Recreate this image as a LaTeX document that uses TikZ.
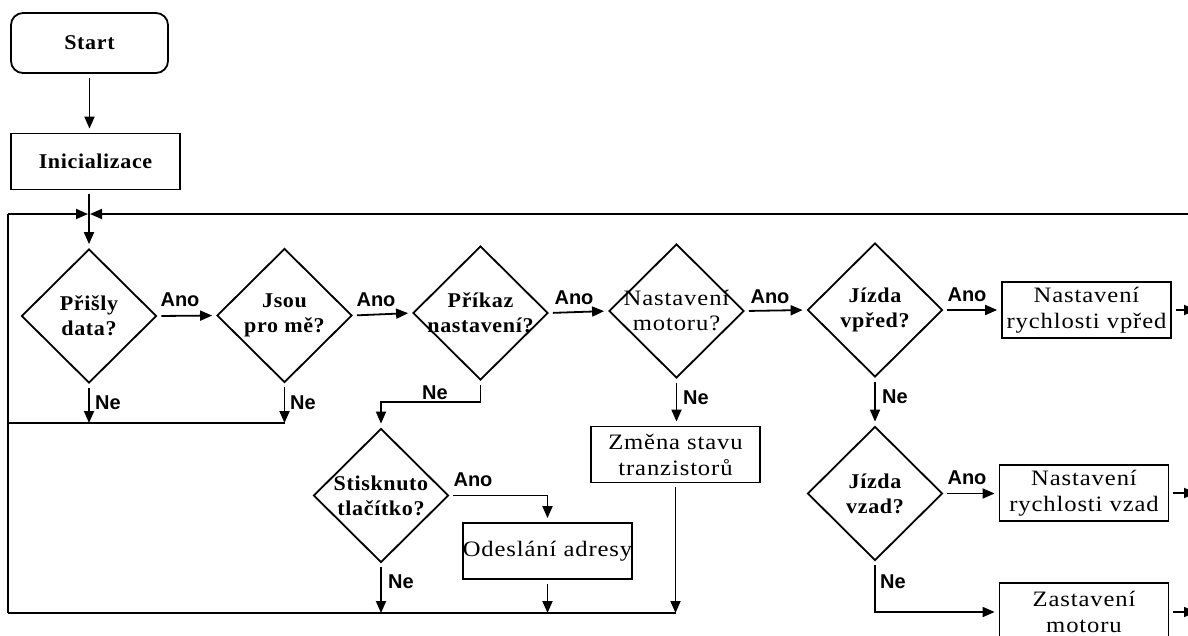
\documentclass[tikz,border=0pt]{standalone}
\usepackage{fontspec}
\setmainfont{Liberation Serif}
\newfontfamily\boxserif[FakeStretch=1.12,LetterSpace=4]{Liberation Serif}
\newfontfamily\qserif[FakeStretch=1.05,LetterSpace=3]{Liberation Serif}
\newfontfamily\tagsans{Liberation Sans}
\usetikzlibrary{shapes.geometric,arrows.meta}

\begin{document}
\begin{tikzpicture}[x=1pt,y=-1pt,
  line width=1.8pt,
  tipflow/.style={-{Triangle[length=12pt,width=10pt]}},
  flow/.style={tipflow, shorten >=4pt, shorten <=4pt},
  flowin/.style={tipflow, shorten <=4pt},
  qtext/.style={align=center, font={\qserif\bfseries\fontsize{21}{25}\selectfont}},
  qtextreg/.style={align=center, font={\boxserif\fontsize{22}{25}\selectfont}},
  term/.style={draw, rounded corners=12pt, minimum width=157pt, minimum height=60pt,
    inner sep=0pt, font={\qserif\bfseries\fontsize{21}{25}\selectfont}},
  stepbox/.style={draw, minimum width=169pt, minimum height=56pt, inner sep=0pt,
    align=center, font={\boxserif\fontsize{22}{26}\selectfont}},
  dec/.style={draw, diamond, minimum width=135pt, minimum height=134pt, inner sep=0pt},
  tag/.style={font={\tagsans\bfseries\fontsize{20}{22}\selectfont}, inner sep=0pt}
]
% canvas
\fill[white] (0,0) rectangle (1188,635);
\clip (0,0) rectangle (1188,635);

% start and initialisation
\node[term] (start) at (89.5,43) {Start};
\node[stepbox, font={\qserif\bfseries\fontsize{21}{25}\selectfont}] (init) at (95.5,161.5) {Inicializace};

% decisions
\node[dec, label={[qtext]center:Přišly\\data?}] (d1) at (89,316) {};
\node[dec, label={[qtext]center:Jsou\\pro mě?}] (d2) at (284.5,315.5) {};
\node[dec, label={[qtext]center:Příkaz\\nastavení?}] (d3) at (480.5,313) {};
\node[dec, label={[qtextreg]center:Nastavení\\motoru?}] (d4) at (676.5,311) {};
\node[dec, label={[qtext]center:Jízda\\vpřed?}] (d5) at (875,310) {};
\node[dec, label={[qtext]center:Stisknuto\\tlačítko?}] (d6) at (381,495.5) {};
\node[dec, label={[qtext]center:Jízda\\vzad?}] (d7) at (875,493.5) {};

% actions
\node[stepbox] (zm) at (675.5,454.5) {Změna stavu\\tranzistorů};
\node[stepbox] (od) at (547.5,551) {Odeslání adresy};
\node[stepbox] (rvf) at (1086.5,310) {Nastavení\\rychlosti vpřed};
\node[stepbox] (rvb) at (1084,493) {Nastavení\\rychlosti vzad};
\node[stepbox, minimum height=58pt] (zs) at (1084,612) {Zastavení\\motoru};

% loop rails
\coordinate (jn) at (89,214);
\coordinate (lt) at (8,214);
\coordinate (lm) at (8,423);
\coordinate (lb) at (8,613);
\coordinate (rt) at (1200,214);
\coordinate (e1) at (1196,310);
\coordinate (e2) at (1196,493);
\coordinate (e3) at (1196,612);

% main sequence
\draw[flow] (start.south) -- (start.south |- init.north);
\draw[flow] (d1.north |- init.south) -- (d1.north);
\draw (lb) -- (lt);
\draw[tipflow] (lt) -- ([xshift=-1pt]jn);
\draw[tipflow] (rt) -- ([xshift=1pt]jn);

% yes branches
\draw[flow] (d1.east) -- (d2.west);
\draw[flow] (d2.east) -- (d3.west);
\draw[flow] (d3.east) -- (d4.west);
\draw[flow] (d4.east) -- (d5.west);
\draw[flow] (d5.east) -- (rvf.west);
\draw[flow] (d7.east) -- (d7.east -| rvb.west);
\draw[flow] (d6.east) -| (od.north);

% no branches
\draw (lm) -- (d2.south |- lm);
\draw[flowin] (d1.south) -- (d1.south |- lm);
\draw[flowin] (d2.south) -- (d2.south |- lm);
\draw[flow] (d3.south) -- ++(0,21) -| (d6.north);
\draw[flow] (d4.south) -- (d4.south |- zm.north);
\draw[flow] (d5.south) -- (d7.north);
\draw[flow] (d7.south) |- (zs.west);

% return to bottom rail
\draw (lb) -- (zm.south |- lb);
\draw[flowin] (zm.south) -- (zm.south |- lb);
\draw[flowin] (od.south) -- (od.south |- lb);
\draw[flowin] (d6.south) -- (d6.south |- lb);

% exits on the right
\draw[flowin] (rvf.east) -- (e1);
\draw[flowin] (rvb.east) -- (e2);
\draw[flowin] (zs.east) -- (e3);

% branch labels
\node[tag] (a1) at (180,300) {Ano};
\node[tag] (a2) at (376,300) {Ano};
\node[tag] (a3) at (574,298) {Ano};
\node[tag] (a4) at (770,297) {Ano};
\node[tag] (a5) at (967,295) {Ano};
\node[tag] (a6) at (473,480) {Ano};
\node[tag] (a7) at (967,478) {Ano};
\node[tag] (n1) at (108,403) {Ne};
\node[tag] (n2) at (303,403) {Ne};
\node[tag] (n3) at (435,393) {Ne};
\node[tag] (n4) at (696,398) {Ne};
\node[tag] (n5) at (895,397) {Ne};
\node[tag] (n6) at (401,582) {Ne};
\node[tag] (n7) at (893,582) {Ne};
\end{tikzpicture}
\end{document}
